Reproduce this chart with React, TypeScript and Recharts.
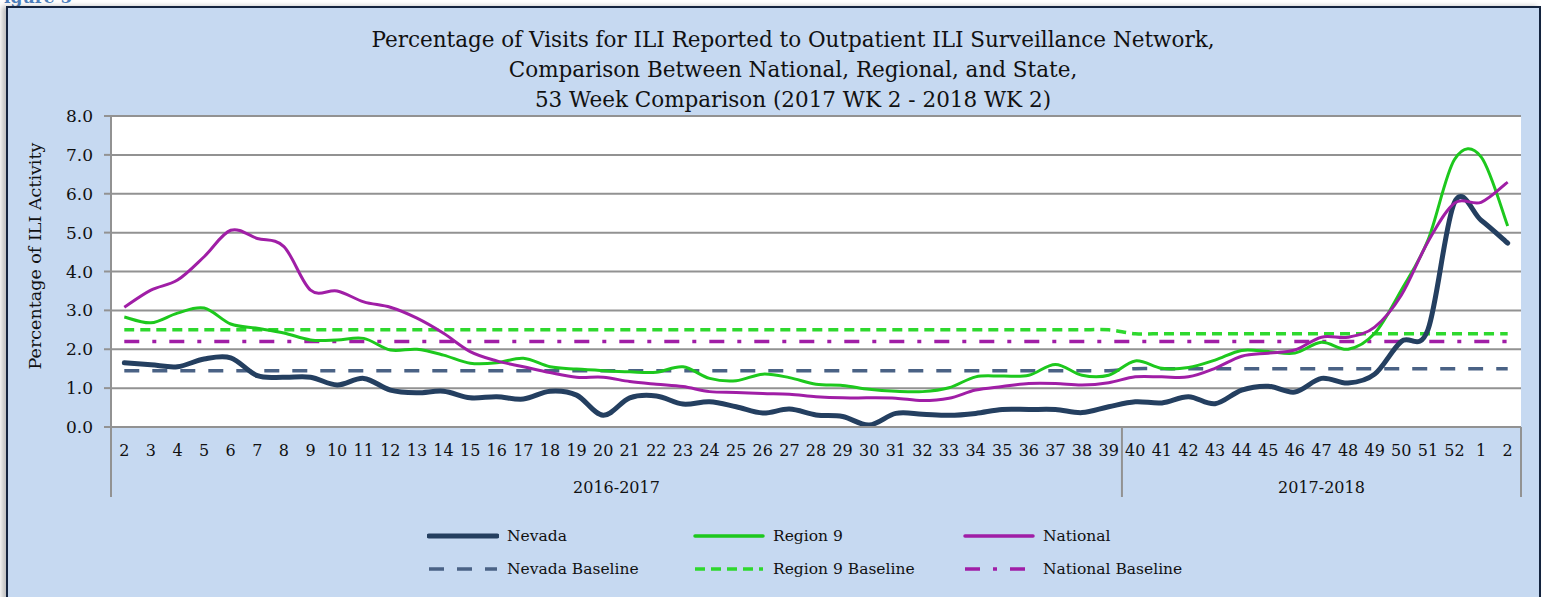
import { LineChart, Line, XAxis, YAxis, CartesianGrid } from 'recharts'

const FONT = '"DejaVu Serif", "Liberation Serif", serif'

const weeks = ['2', '3', '4', '5', '6', '7', '8', '9', '10', '11', '12', '13', '14', '15', '16', '17', '18', '19', '20', '21', '22', '23', '24', '25', '26', '27', '28', '29', '30', '31', '32', '33', '34', '35', '36', '37', '38', '39', '40', '41', '42', '43', '44', '45', '46', '47', '48', '49', '50', '51', '52', '1', '2']
const seasons = ['2016-2017', '2017-2018']
const seasonLengths = [38, 15]

const nevada = [1.65, 1.6, 1.55, 1.75, 1.78, 1.32, 1.28, 1.28, 1.08, 1.25, 0.95, 0.88, 0.92, 0.75, 0.78, 0.72, 0.92, 0.82, 0.3, 0.75, 0.8, 0.59, 0.65, 0.52, 0.36, 0.46, 0.31, 0.27, 0.05, 0.35, 0.33, 0.3, 0.35, 0.45, 0.45, 0.45, 0.37, 0.52, 0.65, 0.62, 0.78, 0.6, 0.95, 1.05, 0.9, 1.25, 1.13, 1.36, 2.2, 2.5, 5.78, 5.32, 4.73]
const region9 = [2.83, 2.68, 2.93, 3.06, 2.65, 2.54, 2.42, 2.24, 2.24, 2.28, 1.98, 2.0, 1.85, 1.64, 1.65, 1.77, 1.55, 1.49, 1.45, 1.42, 1.41, 1.55, 1.25, 1.19, 1.36, 1.27, 1.1, 1.07, 0.97, 0.92, 0.91, 1.01, 1.29, 1.31, 1.33, 1.61, 1.33, 1.33, 1.7, 1.51, 1.53, 1.72, 1.97, 1.94, 1.9, 2.18, 2.0, 2.41, 3.52, 4.8, 6.88, 6.95, 5.17]
const national = [3.08, 3.52, 3.78, 4.38, 5.06, 4.85, 4.64, 3.52, 3.5, 3.22, 3.08, 2.8, 2.41, 1.94, 1.7, 1.55, 1.4, 1.28, 1.28, 1.17, 1.1, 1.04, 0.91, 0.89, 0.86, 0.84, 0.78, 0.75, 0.75, 0.74, 0.68, 0.74, 0.95, 1.04, 1.12, 1.12, 1.08, 1.14, 1.29, 1.29, 1.29, 1.51, 1.82, 1.9, 1.98, 2.31, 2.31, 2.57, 3.39, 4.76, 5.76, 5.78, 6.3]

// one baseline value per season
const nevadaBaseline = [1.45, 1.5]
const region9Baseline = [2.5, 2.4]
const nationalBaseline = [2.2, 2.2]

const yTicks = [0, 1, 2, 3, 4, 5, 6, 7, 8]

const seasonOf = (i: number) => (i < seasonLengths[0] ? 0 : 1)

const data = weeks.map((w, i) => ({
  week: w,
  nevada: nevada[i],
  region9: region9[i],
  national: national[i],
  nevadaBase: nevadaBaseline[seasonOf(i)],
  region9Base: region9Baseline[seasonOf(i)],
  nationalBase: nationalBaseline[seasonOf(i)],
}))

const CHART_W = 1531
const CHART_H = 590
const MARGIN = { top: 108, right: 18, bottom: 98, left: 0 }
const Y_AXIS_W = 103
const BAND = (CHART_W - MARGIN.left - MARGIN.right - Y_AXIS_W) / weeks.length
const AXIS_GRAY = '#929292'

// Excel-like smoothed line (catmull-rom style bezier)
function smoothCurve(context: any) {
  let pts: number[][] = []
  return {
    areaStart() {},
    areaEnd() {},
    lineStart() { pts = [] },
    point(x: number, y: number) { pts.push([+x, +y]) },
    lineEnd() {
      if (!pts.length) return
      context.moveTo(pts[0][0], pts[0][1])
      for (let i = 0; i < pts.length - 1; i++) {
        const p0 = pts[Math.max(i - 1, 0)]
        const p1 = pts[i]
        const p2 = pts[i + 1]
        const p3 = pts[Math.min(i + 2, pts.length - 1)]
        context.bezierCurveTo(
          p1[0] + (p2[0] - p0[0]) / 6, p1[1] + (p2[1] - p0[1]) / 6,
          p2[0] - (p3[0] - p1[0]) / 6, p2[1] - (p3[1] - p1[1]) / 6,
          p2[0], p2[1],
        )
      }
    },
  }
}

// week number plus the season row and its dividers underneath
function WeekTick({ x, y, payload, index }: any) {
  const starts = [0, seasonLengths[0]]
  const g = starts.indexOf(index)
  const last = index === weeks.length - 1
  const left = x - BAND / 2
  return (
    <g>
      <text x={x} y={y + 29} textAnchor="middle" fontSize={16} fontFamily={FONT} fill="#111">
        {payload.value}
      </text>
      {g >= 0 && (
        <>
          <line x1={left} x2={left} y1={y} y2={y + 70} stroke={AXIS_GRAY} strokeWidth={2} />
          <text x={left + (seasonLengths[g] * BAND) / 2} y={y + 66} textAnchor="middle" fontSize={16} fontFamily={FONT} fill="#111">
            {seasons[g]}
          </text>
        </>
      )}
      {last && <line x1={x + BAND / 2} x2={x + BAND / 2} y1={y} y2={y + 70} stroke={AXIS_GRAY} strokeWidth={2} />}
    </g>
  )
}

const legendItems = [
  { name: 'Nevada', color: '#243F60', width: 5, dash: undefined, x: 427 },
  { name: 'Region 9', color: '#1DC81D', width: 3.5, dash: undefined, x: 693 },
  { name: 'National', color: '#A01EA6', width: 3.5, dash: undefined, x: 963 },
  { name: 'Nevada Baseline', color: '#4A6285', width: 3.5, dash: '15 13', x: 427 },
  { name: 'Region 9 Baseline', color: '#2ED82E', width: 3.5, dash: '10 6', x: 693 },
  { name: 'National Baseline', color: '#A01EA6', width: 3.5, dash: '15 13 4 13', x: 963 },
]

export default function App() {
  return (
    <div style={{ position: 'absolute', left: 0, top: 0, width: 1544, height: 597, overflow: 'hidden', background: '#fff', fontFamily: FONT }}>
      <div style={{ position: 'absolute', left: -8, top: -13, color: '#4F81BD', fontWeight: 700, fontSize: 17 }}>Figure 5</div>
      <div style={{ position: 'absolute', left: 6, top: 6, width: 1531, height: 620, border: '2px solid #14243F', background: '#C6D9F1', boxShadow: '-4px 0 5px rgba(0,0,0,0.25)' }}>
        <div style={{ position: 'absolute', left: 0, top: 0 }}>
          <LineChart width={CHART_W} height={CHART_H} data={data} margin={MARGIN}>
            <CartesianGrid vertical={false} fill="#fff" stroke={AXIS_GRAY} strokeWidth={2} horizontalValues={yTicks} />
            <XAxis dataKey="week" interval={0} tickSize={0} tickMargin={0} height={73} padding={{ left: BAND / 2, right: BAND / 2 }} tick={<WeekTick />} axisLine={{ stroke: AXIS_GRAY, strokeWidth: 2 }} />
            <YAxis width={Y_AXIS_W} domain={[0, 8]} ticks={yTicks} interval={0} tickFormatter={(v: number) => v.toFixed(1)} tickSize={7} tickMargin={11} axisLine={{ stroke: AXIS_GRAY, strokeWidth: 2 }} tickLine={{ stroke: AXIS_GRAY, strokeWidth: 2 }} tick={{ fontSize: 17, fill: '#111', fontFamily: FONT }} />
            <Line dataKey="nevadaBase" stroke="#4A6285" strokeWidth={3.5} strokeDasharray="15 13" dot={false} type={smoothCurve as any} isAnimationActive={false} />
            <Line dataKey="region9Base" stroke="#2ED82E" strokeWidth={3.5} strokeDasharray="10 6" dot={false} type={smoothCurve as any} isAnimationActive={false} />
            <Line dataKey="nationalBase" stroke="#A01EA6" strokeWidth={3.5} strokeDasharray="15 13 4 13" dot={false} type={smoothCurve as any} isAnimationActive={false} />
            <Line dataKey="nevada" stroke="#243F60" strokeWidth={5} strokeLinecap="round" dot={false} type={smoothCurve as any} isAnimationActive={false} />
            <Line dataKey="region9" stroke="#1DC81D" strokeWidth={3} dot={false} type={smoothCurve as any} isAnimationActive={false} />
            <Line dataKey="national" stroke="#A01EA6" strokeWidth={3} dot={false} type={smoothCurve as any} isAnimationActive={false} />
          </LineChart>
        </div>
        <div style={{ position: 'absolute', left: 785, top: 17, transform: 'translateX(-50%)', textAlign: 'center', fontSize: 21.5, lineHeight: '30px', color: '#111', whiteSpace: 'nowrap' }}>
          Percentage of Visits for ILI Reported to Outpatient ILI Surveillance Network,<br />
          Comparison Between National, Regional, and State,<br />
          53 Week Comparison (2017 WK 2 - 2018 WK 2)
        </div>
        <div style={{ position: 'absolute', left: 27, top: 248, transform: 'translate(-50%, -50%) rotate(-90deg)', fontSize: 17.5, color: '#111', whiteSpace: 'nowrap' }}>
          Percentage of ILI Activity
        </div>
        {legendItems.map((it, i) => (
          <div key={it.name} style={{ position: 'absolute', left: it.x - 8, top: (i < 3 ? 536 : 569) - 8 - 10, height: 20, display: 'flex', alignItems: 'center', fontSize: 15.5, color: '#111', whiteSpace: 'nowrap' }}>
            <svg width={72} height={10} style={{ marginRight: 8 }}>
              <line x1={2} x2={70} y1={5} y2={5} stroke={it.color} strokeWidth={it.width} strokeDasharray={it.dash} strokeLinecap={it.dash ? 'butt' : 'round'} />
            </svg>
            {it.name}
          </div>
        ))}
      </div>
    </div>
  )
}
